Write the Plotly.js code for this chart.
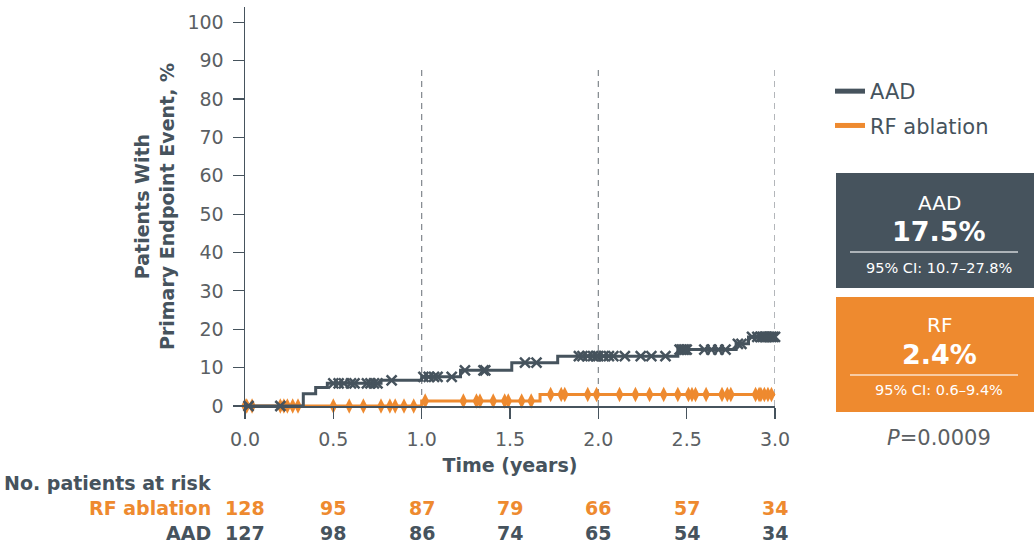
<!DOCTYPE html>
<html>
<head>
<meta charset="utf-8">
<script src="https://cdn.plot.ly/plotly-3.0.1.min.js"></script>
<style>html,body{margin:0;padding:0;background:#fff}#chart{width:1034px;height:546px}</style>
</head>
<body>
<div id="chart"></div>
<script>
// ---- Data ----
const aadStepTimes = [0, 0.33, 0.40, 0.466, 0.77, 1.0, 1.22, 1.51, 1.77, 2.45, 2.78, 2.85, 3.0];
const aadStepValues = [0, 3.2, 4.8, 5.9, 6.7, 7.6, 9.3, 11.3, 13.0, 14.7, 16.2, 18.0, 18.0];
const rfStepTimes = [0, 1.0, 1.67, 3.0];
const rfStepValues = [0, 1.3, 3.0, 3.0];

const aadCensorTimes = [0.02, 0.2, 0.50, 0.53, 0.56, 0.60, 0.62, 0.69, 0.71, 0.73, 0.75, 0.83,
  1.01, 1.04, 1.07, 1.09, 1.17, 1.245, 1.35, 1.36, 1.585, 1.65, 1.89, 1.91, 1.94, 1.97, 1.99,
  2.0, 2.03, 2.06, 2.085, 2.15, 2.24, 2.30, 2.38, 2.46, 2.47, 2.48, 2.49, 2.50, 2.60, 2.64, 2.68, 2.72,
  2.79, 2.81, 2.87, 2.90, 2.92, 2.93, 2.94, 2.95, 2.96, 2.97, 2.98, 2.99, 3.0];
const rfCensorTimes = [0.0, 0.01, 0.04, 0.2, 0.22, 0.24, 0.27, 0.30, 0.50, 0.59, 0.67, 0.77, 0.82, 0.85,
  0.90, 0.955, 1.02, 1.236, 1.31, 1.33, 1.405, 1.47, 1.49, 1.566, 1.62, 1.73, 1.79, 1.81, 1.94, 1.99,
  2.12, 2.21, 2.29, 2.37, 2.45, 2.51, 2.53, 2.55, 2.61, 2.70, 2.73, 2.75, 2.89, 2.91, 2.92, 2.94, 2.96, 2.98];

const xTickVals = [0, 0.5, 1.0, 1.5, 2.0, 2.5, 3.0];
const xTickText = ['0.0', '0.5', '1.0', '1.5', '2.0', '2.5', '3.0'];
const yTickVals = [0, 10, 20, 30, 40, 50, 60, 70, 80, 90, 100];
const referenceTimes = [1.0, 2.0, 3.0];

const riskTimes = [0, 0.5, 1.0, 1.5, 2.0, 2.5, 3.0];
const riskRF = [128, 95, 87, 79, 66, 57, 34];
const riskAAD = [127, 98, 86, 74, 65, 54, 34];

const aadLabel = 'AAD';
const rfLabel = 'RF ablation';
const aadEstimate = '17.5%';
const aadCI = '95% CI: 10.7–27.8%';
const rfEstimate = '2.4%';
const rfCI = '95% CI: 0.6–9.4%';
const pValue = '0.0009';

// ---- Styling ----
const DARK = '#46535d';
const ORANGE = '#ee8a2f';
const GREY = '#5b5f63';
const FONT = '"DejaVu Sans", "Noto Sans", sans-serif';

function stepLookup(times, values, t) {
  let v = values[0];
  for (let i = 0; i < times.length; i++) { if (times[i] <= t + 1e-9) v = values[i]; }
  return v;
}

const traces = [
  {x: rfStepTimes, y: rfStepValues, type: 'scatter', mode: 'lines', line: {shape: 'hv', color: ORANGE, width: 3},
   showlegend: false, cliponaxis: false, hoverinfo: 'skip'},
  {x: rfCensorTimes, y: rfCensorTimes.map(t => stepLookup(rfStepTimes, rfStepValues, t)), type: 'scatter', mode: 'markers',
   marker: {symbol: 'diamond-tall', size: 11, color: ORANGE}, showlegend: false, cliponaxis: false},
  {x: aadStepTimes, y: aadStepValues, type: 'scatter', mode: 'lines', line: {shape: 'hv', color: DARK, width: 3},
   showlegend: false, cliponaxis: false},
  {x: aadCensorTimes, y: aadCensorTimes.map(t => stepLookup(aadStepTimes, aadStepValues, t)), type: 'scatter', mode: 'markers',
   marker: {symbol: 'x-thin-open', size: 10, color: DARK, line: {color: DARK, width: 2.5}}, showlegend: false, cliponaxis: false},
  // legend entries
  {x: [null], y: [null], type: 'scatter', mode: 'lines', name: aadLabel, legendgroup: 'a', line: {color: DARK, width: 5}},
  {x: [null], y: [null], type: 'scatter', mode: 'lines', name: rfLabel, legendgroup: 'b', line: {color: ORANGE, width: 5}}
];

const L = 245, R = 775, T = 7, B = 406;
const px = x => (x - L) / (R - L);
const py = y => (B - y) / (B - T);

const shapes = referenceTimes.map(t => ({type: 'line', xref: 'x', yref: 'y', x0: t, x1: t, y0: 0, y1: 88,
  line: {color: '#80868c', width: 1.2, dash: '6px,5px'}, layer: 'below'}));
shapes.push({type: 'rect', xref: 'paper', yref: 'paper', x0: px(836), x1: px(1034), y0: py(288), y1: py(173), fillcolor: DARK, line: {width: 0}});
shapes.push({type: 'rect', xref: 'paper', yref: 'paper', x0: px(836), x1: px(1034), y0: py(412), y1: py(297), fillcolor: ORANGE, line: {width: 0}});
shapes.push({type: 'line', xref: 'paper', yref: 'paper', x0: px(850), x1: px(1018), y0: py(252), y1: py(252), line: {color: 'rgba(255,255,255,0.75)', width: 1.5}});
shapes.push({type: 'line', xref: 'paper', yref: 'paper', x0: px(850), x1: px(1018), y0: py(375), y1: py(375), line: {color: 'rgba(255,255,255,0.75)', width: 1.5}});

const cx = px(939);
function ann(x, y, text, size, color, xanchor, xref) {
  return {xref: xref || 'paper', yref: 'paper', x: x, y: y, text: text, showarrow: false,
    xanchor: xanchor || 'center', yanchor: 'middle', font: {family: FONT, size: size, color: color}};
}
const annotations = [
  ann(cx, py(203), 'AAD', 20, '#fff'),
  ann(cx, py(231), '<b>' + aadEstimate + '</b>', 27, '#fff'),
  ann(cx, py(268), aadCI, 14.5, '#fff'),
  ann(cx, py(325), 'RF', 20, '#fff'),
  ann(cx, py(354), '<b>' + rfEstimate + '</b>', 27, '#fff'),
  ann(cx, py(390), rfCI, 14.5, '#fff'),
  ann(cx, py(438), '<i>P</i>=' + pValue, 21, GREY),
  ann(px(213), py(483), '<b>No. patients at risk</b>', 19, DARK, 'right'),
  ann(px(213), py(508), '<b>' + rfLabel + '</b>', 19, ORANGE, 'right'),
  ann(px(213), py(533), '<b>' + aadLabel + '</b>', 19, DARK, 'right')
];
riskTimes.forEach((t, i) => {
  annotations.push(ann(t, py(508), '<b>' + riskRF[i] + '</b>', 19, ORANGE, 'center', 'x'));
  annotations.push(ann(t, py(533), '<b>' + riskAAD[i] + '</b>', 19, DARK, 'center', 'x'));
});

const layout = {
  width: 1034, height: 546,
  margin: {l: L, r: 1034 - R, t: T, b: 546 - B},
  paper_bgcolor: '#fff', plot_bgcolor: '#fff',
  font: {family: FONT, color: GREY},
  showlegend: true,
  legend: {x: px(830), y: py(71), xanchor: 'left', yanchor: 'top', font: {family: FONT, size: 21, color: DARK},
    tracegroupgap: 4, traceorder: 'grouped', bgcolor: 'rgba(0,0,0,0)'},
  xaxis: {range: [0, 3], tickvals: xTickVals, ticktext: xTickText, showgrid: false, zeroline: false,
    showline: true, linecolor: DARK, linewidth: 1.5, ticks: 'outside', ticklen: 11, tickwidth: 1.2, tickcolor: DARK,
    tickfont: {family: FONT, size: 19, color: GREY}, ticklabelstandoff: 5,
    title: {text: '<b>Time (years)</b>', font: {family: FONT, size: 19, color: DARK}, standoff: 9}},
  yaxis: {range: [0, 104], tickvals: yTickVals, showgrid: false, zeroline: false,
    showline: true, linecolor: DARK, linewidth: 1.5, ticks: 'outside', ticklen: 11, tickwidth: 1.2, tickcolor: DARK,
    tickfont: {family: FONT, size: 19, color: GREY}, ticklabelstandoff: 5,
    title: {text: '<b>Patients With<br>Primary Endpoint Event, %</b>', font: {family: FONT, size: 19, color: DARK}, standoff: 8}},
  shapes: shapes,
  annotations: annotations
};

Plotly.newPlot('chart', traces, layout, {displayModeBar: false, staticPlot: true});
</script>
</body>
</html>
